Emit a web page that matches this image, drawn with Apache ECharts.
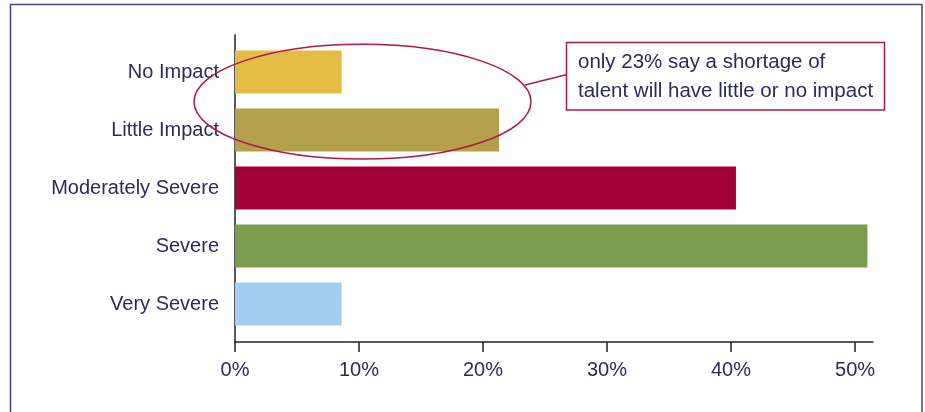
<!DOCTYPE html>
<html>
<head>
<meta charset="utf-8">
<script src="https://cdn.jsdelivr.net/npm/echarts@6/dist/echarts.min.js"></script>
<style>
html,body{margin:0;padding:0;background:#fff;}
#chart{width:925px;height:412px;}
</style>
</head>
<body>
<div id="chart"></div>
<script>
var categories = ['No Impact', 'Little Impact', 'Moderately Severe', 'Severe', 'Very Severe'];
var values = [8.6, 21.3, 40.4, 51.0, 8.6];
var tickValues = [0, 10, 20, 30, 40, 50];
var annotationLines = ['only 23% say a shortage of', 'talent will have little or no impact'];

var barColors = ['#e4bd47', '#b49f4b', '#a30037', '#7a9d50', '#a3cdf1'];
var textColor = '#2d2a5e';
var font = '"Liberation Sans", Arial, Helvetica, sans-serif';
var accent = '#b0174a';

var chart = echarts.init(document.getElementById('chart'));
var xMax = 51.45;

chart.setOption({
  animation: false,
  backgroundColor: '#fff',
  grid: [
    {left: 235, right: 52, top: 35, bottom: 70},
    {left: 235, right: 52, top: 43, bottom: 79}
  ],
  xAxis: [
    {
      gridIndex: 0, type: 'value', min: 0, max: xMax, interval: 10,
      axisLine: {show: true, lineStyle: {color: '#222', width: 1.5}},
      axisTick: {show: true, length: 10, customValues: tickValues, lineStyle: {color: '#222', width: 1.5}},
      axisLabel: {customValues: tickValues, formatter: '{value}%', color: textColor, fontSize: 20, fontFamily: font, margin: 18},
      splitLine: {show: false}
    },
    {
      gridIndex: 1, type: 'value', min: 0, max: xMax, show: false
    }
  ],
  yAxis: [
    {
      gridIndex: 0, type: 'value', min: 0, max: 1,
      axisLine: {show: true, lineStyle: {color: '#222', width: 1.5}},
      axisTick: {show: false}, axisLabel: {show: false}, splitLine: {show: false}
    },
    {
      gridIndex: 1, type: 'category', data: categories, inverse: true,
      axisLine: {show: false}, axisTick: {show: false},
      axisLabel: {color: textColor, fontSize: 20, fontFamily: font, margin: 16, padding: [4, 0, 0, 0]}
    }
  ],
  series: [{
    type: 'bar',
    xAxisIndex: 1, yAxisIndex: 1,
    barWidth: 43,
    data: values.map(function (v, i) {
      return {value: v, itemStyle: {color: barColors[i]}};
    })
  }],
  graphic: [
    {type: 'rect', shape: {x: 10.5, y: 4.5, width: 911.5, height: 430}, style: {fill: null, stroke: '#4a4585', lineWidth: 1.5}, silent: true},
    {type: 'ellipse', shape: {cx: 362.5, cy: 101.7, rx: 168.5, ry: 57.4}, style: {fill: null, stroke: accent, lineWidth: 1.5}, z: 10},
    {type: 'line', shape: {x1: 525, y1: 85, x2: 567, y2: 74.5}, style: {stroke: accent, lineWidth: 1.5}, z: 10},
    {type: 'rect', shape: {x: 566.5, y: 42.5, width: 318, height: 67.5}, style: {fill: '#fff', stroke: accent, lineWidth: 1.5}, z: 10},
    {type: 'text', x: 578, y: 62.5, style: {text: annotationLines[0], fill: textColor, font: '20.5px ' + font, textVerticalAlign: 'middle'}, z: 11},
    {type: 'text', x: 578, y: 91, style: {text: annotationLines[1], fill: textColor, font: '20.5px ' + font, textVerticalAlign: 'middle'}, z: 11}
  ]
});
</script>
</body>
</html>
